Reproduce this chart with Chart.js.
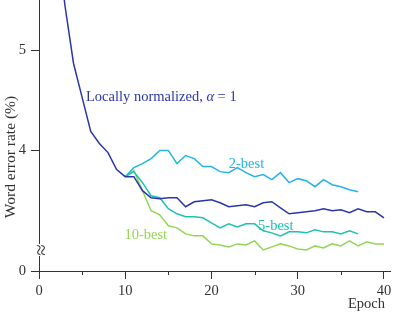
<!DOCTYPE html>
<html>
<head>
<meta charset="utf-8">
<script src="https://cdn.jsdelivr.net/npm/chart.js@4.4.0/dist/chart.umd.min.js"></script>
<style>
  html, body { margin: 0; padding: 0; background: #fff; }
  #wrap { width: 393px; height: 315px; position: relative; }
</style>
</head>
<body>
<div id="wrap"><canvas id="myChart"></canvas></div>
<script>
// x values (epochs)
const epochs = [1, 2, 3, 4, 5, 6, 7, 8, 9, 10,
                11, 12, 13, 14, 15, 16, 17, 18, 19, 20,
                21, 22, 23, 24, 25, 26, 27, 28, 29, 30,
                31, 32, 33, 34, 35, 36, 37, 38, 39, 40];

// word error rate (%), one entry per epoch, null = not trained
const normalized = [7.00, 6.20, 5.45, 4.87, 4.53, 4.19, 4.07, 3.98, 3.81, 3.74,
                    3.74, 3.60, 3.53, 3.52, 3.53, 3.53, 3.44, 3.49, 3.50, 3.51,
                    3.48, 3.44, 3.45, 3.46, 3.44, 3.48, 3.49, 3.43, 3.37, 3.38,
                    3.39, 3.40, 3.42, 3.40, 3.41, 3.38, 3.42, 3.39, 3.39, 3.33];

const twoBest = [null, null, null, null, null, null, null, null, null, 3.74,
                 3.83, 3.87, 3.92, 4.00, 4.00, 3.87, 3.95, 3.92, 3.84, 3.84,
                 3.79, 3.78, 3.83, 3.78, 3.74, 3.76, 3.71, 3.78, 3.68, 3.72,
                 3.70, 3.64, 3.71, 3.66, 3.64, 3.61, 3.59, null, null, null];

const fiveBest = [null, null, null, null, null, null, null, null, null, 3.74,
                  3.79, 3.68, 3.55, 3.53, 3.42, 3.37, 3.34, 3.34, 3.33, 3.28,
                  3.23, 3.27, 3.24, 3.27, 3.27, 3.20, 3.18, 3.15, 3.19, 3.19,
                  3.18, 3.21, 3.19, 3.19, 3.17, 3.20, 3.17, null, null, null];

const tenBest = [null, null, null, null, null, null, null, null, null, 3.74,
                 3.80, 3.60, 3.40, 3.36, 3.25, 3.23, 3.17, 3.15, 3.15, 3.07,
                 3.06, 3.04, 3.07, 3.06, 3.10, 3.01, 3.04, 3.07, 3.05, 3.02,
                 3.01, 3.05, 3.03, 3.07, 3.05, 3.10, 3.05, 3.09, 3.07, 3.07];

// axis ticks; the y axis is broken, its bottom is labelled 0
const xTicks = [0, 10, 20, 30, 40];
const xMinorTicks = [5, 15, 25, 35];
const yBreak = 2.80;
const yTicks = [yBreak, 4, 5];
const yTickLabels = ['0', '4', '5'];

const FONT = "'Liberation Serif', 'DejaVu Serif', serif";
const AXIS = '#333333';

const COLORS = {
    normalized: '#2a36aa',
    two: '#22b5e5',
    five: '#1cc2b2',
    ten: '#93d655'
};

// curve labels, placed in data coordinates
const curveLabels = [
    { text: 'Locally normalized, ', math: true, x: 5.45, y: 4.53, color: COLORS.normalized },
    { text: '2-best', x: 22.0, y: 3.86, color: COLORS.two },
    { text: '5-best', x: 25.4, y: 3.25, color: COLORS.five },
    { text: '10-best', x: 9.9, y: 3.16, color: COLORS.ten }
];

function toPoints(values) {
    return epochs.map((e, i) => ({ x: e, y: values[i] }));
}

function makeSet(label, values, color) {
    return {
        label: label,
        data: toPoints(values),
        borderColor: color,
        borderWidth: 1.5,
        pointRadius: 0,
        fill: false,
        tension: 0,
        spanGaps: false,
        clip: 0
    };
}

const extras = {
    id: 'extras',
    afterDraw(chart) {
        const ctx = chart.ctx;
        const xs = chart.scales.x;
        const ys = chart.scales.y;
        ctx.save();

        // minor x ticks
        ctx.strokeStyle = AXIS;
        ctx.lineWidth = 1;
        xMinorTicks.forEach(v => {
            const px = Math.round(xs.getPixelForValue(v)) + 0.5;
            ctx.beginPath();
            ctx.moveTo(px, xs.top);
            ctx.lineTo(px, xs.top + 4);
            ctx.stroke();
        });

        // axis break symbol
        const bx = ys.right;
        const by = 250;
        ctx.fillStyle = '#fff';
        ctx.fillRect(bx - 5, by - 6, 10, 12);
        ctx.translate(bx, by);
        ctx.rotate(-Math.PI / 2);
        ctx.fillStyle = AXIS;
        ctx.font = '21px ' + FONT;
        ctx.textAlign = 'center';
        ctx.textBaseline = 'middle';
        ctx.fillText('\u2248', 0, 3);
        ctx.setTransform(1, 0, 0, 1, 0, 0);

        // axis titles
        ctx.font = '14.5px ' + FONT;
        ctx.fillStyle = AXIS;
        ctx.textAlign = 'right';
        ctx.textBaseline = 'middle';
        ctx.fillText('Epoch', 385, 304);

        ctx.font = '15.5px ' + FONT;
        ctx.translate(11, 157);
        ctx.rotate(-Math.PI / 2);
        ctx.textAlign = 'center';
        ctx.fillText('Word error rate (%)', 0, 0);
        ctx.setTransform(1, 0, 0, 1, 0, 0);

        // curve labels
        ctx.textAlign = 'left';
        ctx.textBaseline = 'middle';
        curveLabels.forEach(l => {
            let px = xs.getPixelForValue(l.x);
            const py = ys.getPixelForValue(l.y);
            ctx.fillStyle = l.color;
            ctx.font = '14.5px ' + FONT;
            ctx.fillText(l.text, px, py);
            if (l.math) {
                px += ctx.measureText(l.text).width;
                ctx.font = 'italic 14.5px ' + FONT;
                ctx.fillText('\u03b1', px, py);
                px += ctx.measureText('\u03b1').width;
                ctx.font = '14.5px ' + FONT;
                ctx.fillText(' = 1', px, py);
            }
        });
        ctx.restore();
    }
};

const ctx = document.getElementById('myChart').getContext('2d');
const chart = new Chart(ctx, {
    type: 'line',
    data: {
        datasets: [
            makeSet('Locally normalized', normalized, COLORS.normalized),
            makeSet('2-best', twoBest, COLORS.two),
            makeSet('5-best', fiveBest, COLORS.five),
            makeSet('10-best', tenBest, COLORS.ten)
        ]
    },
    options: {
        responsive: true,
        maintainAspectRatio: false,
        animation: false,
        layout: { padding: { left: 0, right: 3, top: 0, bottom: 0 } },
        plugins: {
            legend: { display: false },
            tooltip: { enabled: false }
        },
        scales: {
            x: {
                type: 'linear',
                min: 0,
                max: 40.7,
                afterBuildTicks: s => { s.ticks = xTicks.map(v => ({ value: v })); },
                afterFit: s => { s.height = 44; s.paddingLeft = 0; s.paddingRight = 0; },
                grid: { drawOnChartArea: false, drawTicks: true, tickLength: 8, tickColor: AXIS },
                border: { display: true, color: AXIS, width: 1 },
                ticks: {
                    color: AXIS,
                    padding: 3,
                    maxRotation: 0,
                    font: { family: FONT, size: 14.5 }
                }
            },
            y: {
                type: 'linear',
                min: yBreak,
                max: 5.5,
                afterBuildTicks: s => { s.ticks = yTicks.map(v => ({ value: v })); },
                afterFit: s => { s.width = 39; s.paddingTop = 0; s.paddingBottom = 0; },
                grid: { drawOnChartArea: false, drawTicks: true, tickLength: 8, tickColor: AXIS },
                border: { display: true, color: AXIS, width: 1 },
                ticks: {
                    color: AXIS,
                    padding: 5,
                    font: { family: FONT, size: 14.5 },
                    callback: (v, i) => yTickLabels[i]
                }
            }
        }
    },
    plugins: [extras]
});
</script>
</body>
</html>
